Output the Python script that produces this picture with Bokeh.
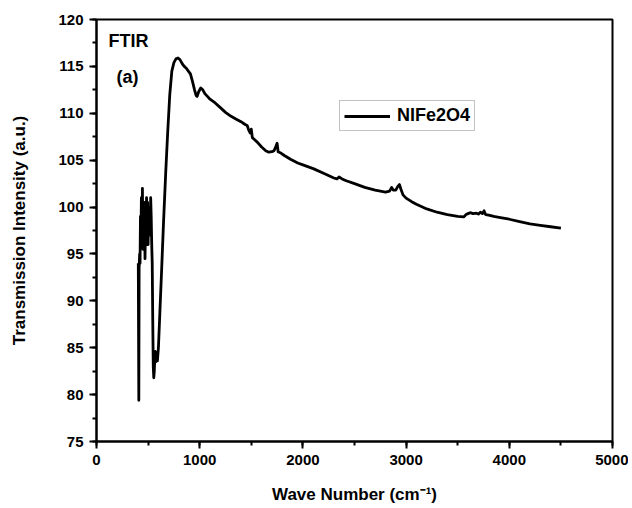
from bokeh.plotting import figure
from bokeh.models import (Range1d, SingleIntervalTicker, Legend, LegendItem, Label,
                          ColumnDataSource)
from bokeh.embed import file_html
from bokeh.resources import INLINE

# ---- data (rows of 10, x and y aligned) ----
wavenumber = [405, 410, 413, 418, 422, 426, 430, 435, 440, 445,
              450, 455, 460, 465, 470, 475, 480, 485, 490, 495,
              500, 505, 510, 515, 520, 525, 530, 535, 540, 545,
              550, 555, 560, 565, 570, 575, 580, 585, 590, 600,
              615, 630, 650, 670, 690, 710, 730, 750, 770, 790,
              810, 830, 850, 870, 890, 910, 930, 950, 965, 975,
              990, 1010, 1030, 1050, 1075, 1100, 1150, 1200, 1250, 1300,
              1350, 1400, 1440, 1460, 1475, 1490, 1500, 1510, 1530, 1560,
              1600, 1640, 1670, 1700, 1720, 1740, 1750, 1760, 1780, 1820,
              1880, 1950, 2000, 2100, 2200, 2300, 2330, 2350, 2380, 2420,
              2500, 2600, 2700, 2800, 2840, 2860, 2875, 2900, 2920, 2935,
              2950, 2970, 3000, 3050, 3100, 3200, 3300, 3400, 3500, 3560,
              3580, 3600, 3620, 3650, 3680, 3700, 3720, 3740, 3755, 3770,
              3800, 3850, 3900, 4000, 4100, 4200, 4300, 4400, 4500]
transmission = [94.0, 79.4, 93.5, 95.0, 94.0, 99.0, 96.0, 101.0, 97.0, 102.0,
                95.5, 99.0, 96.0, 100.5, 94.5, 98.0, 96.0, 101.0, 97.5, 100.5,
                96.0, 99.5, 97.0, 100.0, 98.0, 101.0, 99.0, 96.0, 94.0, 88.0,
                83.0, 81.8, 82.5, 84.0, 84.6, 83.5, 83.8, 84.2, 83.6, 85.0,
                89.0, 93.0, 98.5, 103.5, 108.0, 112.0, 114.5, 115.4, 115.8, 115.9,
                115.7, 115.3, 115.0, 114.8, 114.5, 114.2, 113.4, 112.5, 111.9, 111.8,
                112.3, 112.7, 112.5, 112.1, 111.8, 111.5, 111.1, 110.6, 110.1, 109.7,
                109.4, 109.1, 108.8, 108.7, 108.2, 107.9, 108.3, 107.4, 107.2, 106.9,
                106.4, 106.0, 105.85, 105.9, 106.0, 106.5, 106.8, 105.9, 105.8, 105.5,
                105.1, 104.7, 104.5, 104.1, 103.6, 103.1, 103.0, 103.2, 103.0, 102.8,
                102.5, 102.1, 101.8, 101.6, 101.7, 102.1, 101.8, 101.8, 102.2, 102.4,
                101.9, 101.3, 100.95, 100.6, 100.3, 99.8, 99.45, 99.2, 99.0, 98.95,
                99.2, 99.3, 99.4, 99.3, 99.35, 99.25, 99.45, 99.3, 99.6, 99.2,
                99.15, 99.0, 98.9, 98.7, 98.45, 98.2, 98.05, 97.9, 97.75]

series_name = "NIFe2O4"
x_label = "Wave Number (cm\u207b\u00b9)"
y_label = "Transmission Intensity (a.u.)"

FONT = "Liberation Sans"

p = figure(frame_width=516, frame_height=422, output_backend="svg", toolbar_location=None,
           x_range=Range1d(0, 5000), y_range=Range1d(75, 120),
           min_border_left=96, min_border_right=16, min_border_top=19, min_border_bottom=40)
p.background_fill_color = "white"
p.border_fill_color = "white"
p.xgrid.visible = False
p.ygrid.visible = False
p.outline_line_color = "black"
p.outline_line_width = 2

src = ColumnDataSource(dict(x=wavenumber, y=transmission))
r = p.line("x", "y", source=src, line_color="black", line_width=2.8, line_join="round")

p.xaxis.ticker = SingleIntervalTicker(interval=1000, num_minor_ticks=2)
p.yaxis.ticker = SingleIntervalTicker(interval=5, num_minor_ticks=2)

for ax in (p.xaxis[0], p.yaxis[0]):
    ax.axis_line_width = 2
    ax.major_tick_line_width = 2
    ax.minor_tick_line_width = 2
    ax.major_tick_out = 7
    ax.major_tick_in = 0
    ax.minor_tick_out = 4
    ax.minor_tick_in = 0
    ax.major_label_text_font = FONT
    ax.major_label_text_font_style = "bold"
    ax.major_label_text_font_size = "15px"
    ax.major_label_text_color = "black"
    ax.axis_label_text_font = FONT
    ax.axis_label_text_font_style = "bold"
    ax.axis_label_text_font_size = "17px"
    ax.axis_label_text_color = "black"

p.xaxis.axis_label = x_label
p.yaxis.axis_label = y_label
p.xaxis.major_label_standoff = 6
p.xaxis.axis_label_standoff = 17
p.yaxis.major_label_standoff = 6
p.yaxis.axis_label_standoff = 26

legend = Legend(items=[LegendItem(label=series_name, renderers=[r])],
                location=(243, 310), orientation="vertical",
                label_text_font=FONT, label_text_font_style="bold",
                label_text_font_size="18px", label_text_color="black",
                border_line_color="#888888", border_line_width=1,
                background_fill_alpha=1, padding=4, spacing=0, margin=0,
                glyph_width=46, glyph_height=18, label_height=18, label_standoff=7)
p.add_layout(legend, "center")

p.add_layout(Label(x=116, y=117.75, text="FTIR", text_font=FONT, text_font_style="bold",
                   text_font_size="18px", text_baseline="middle", text_color="black"))
p.add_layout(Label(x=194, y=113.9, text="(a)", text_font=FONT, text_font_style="bold",
                   text_font_size="18px", text_baseline="middle", text_color="black"))

open("out.html", "w").write(file_html(p, INLINE))
